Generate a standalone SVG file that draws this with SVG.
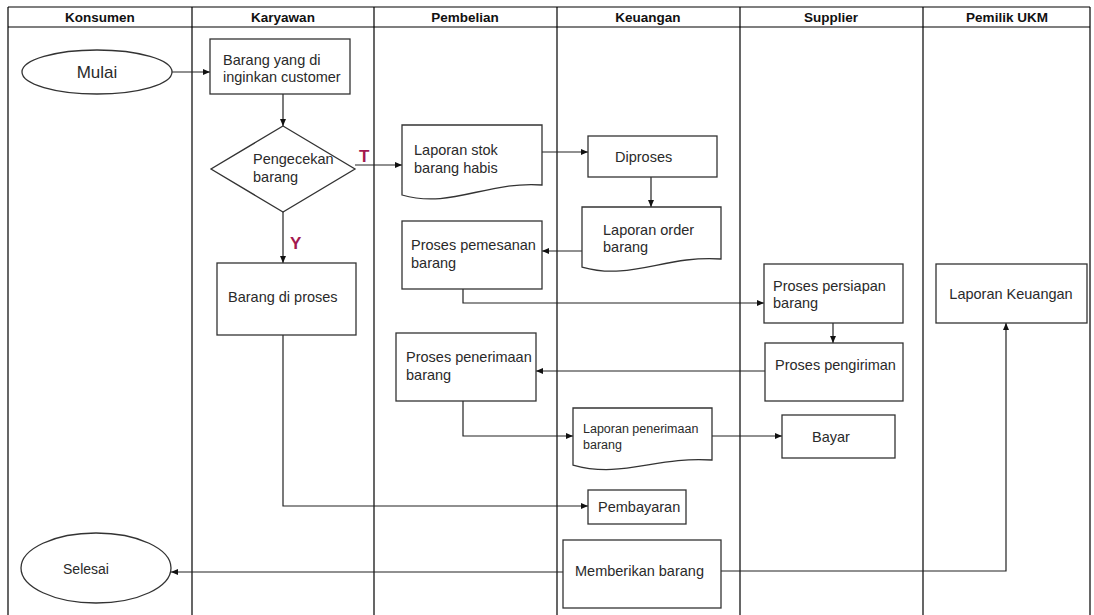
<svg xmlns="http://www.w3.org/2000/svg" width="1094" height="615" viewBox="0 0 1094 615">
<style>
.lane{stroke:#000;stroke-width:1.2;fill:none}
.hd{font-family:"Liberation Sans",Arial,sans-serif;font-weight:bold;font-size:13.5px;fill:#111;text-anchor:middle}
.box{fill:#fff;stroke:#333;stroke-width:1.3}
.t{font-family:"Liberation Sans",Arial,sans-serif;font-size:14.5px;fill:#2a2a2a}
.ts{font-family:"Liberation Sans",Arial,sans-serif;font-size:12.5px;fill:#2a2a2a}
.c{fill:none;stroke:#222;stroke-width:1.2}
.lbl{font-family:"Liberation Sans",Arial,sans-serif;font-weight:bold;font-size:17px;fill:#a3184f}
</style>
<defs>
<marker id="ah" markerWidth="8" markerHeight="8" refX="7" refY="4" orient="auto" markerUnits="userSpaceOnUse">
<path d="M0,1 L7,4 L0,7 Z" fill="#111"/>
</marker>
</defs>
<rect width="1094" height="615" fill="#fff"/>
<g id="lanes">
<line class="lane" x1="8" y1="7" x2="1090" y2="7"/>
<line class="lane" x1="8" y1="27" x2="1090" y2="27"/>
<line class="lane" x1="8" y1="7" x2="8" y2="615"/>
<line class="lane" x1="192" y1="7" x2="192" y2="615"/>
<line class="lane" x1="374" y1="7" x2="374" y2="615"/>
<line class="lane" x1="557" y1="7" x2="557" y2="615"/>
<line class="lane" x1="740" y1="7" x2="740" y2="615"/>
<line class="lane" x1="923" y1="7" x2="923" y2="615"/>
<line class="lane" x1="1090" y1="7" x2="1090" y2="615"/>
<text class="hd" x="100" y="22">Konsumen</text>
<text class="hd" x="283" y="22">Karyawan</text>
<text class="hd" x="465" y="22">Pembelian</text>
<text class="hd" x="648" y="22">Keuangan</text>
<text class="hd" x="831" y="22">Supplier</text>
<text class="hd" x="1007" y="22">Pemilik UKM</text>
</g>
<g id="connectors">
<line class="c" x1="172" y1="72" x2="210" y2="72" marker-end="url(#ah)"/>
<line class="c" x1="283" y1="94" x2="283" y2="126" marker-end="url(#ah)"/>
<line class="c" x1="355" y1="165" x2="402" y2="165" marker-end="url(#ah)"/>
<line class="c" x1="283" y1="212" x2="283" y2="263" marker-end="url(#ah)"/>
<line class="c" x1="542" y1="152" x2="588" y2="152" marker-end="url(#ah)"/>
<line class="c" x1="651" y1="177" x2="651" y2="207" marker-end="url(#ah)"/>
<line class="c" x1="582" y1="251" x2="542" y2="251" marker-end="url(#ah)"/>
<polyline class="c" points="463,289 463,303 764,303" marker-end="url(#ah)"/>
<line class="c" x1="833" y1="323" x2="833" y2="343" marker-end="url(#ah)"/>
<line class="c" x1="765" y1="371" x2="536" y2="371" marker-end="url(#ah)"/>
<polyline class="c" points="463,401 463,436 573,436" marker-end="url(#ah)"/>
<line class="c" x1="712" y1="436" x2="782" y2="436" marker-end="url(#ah)"/>
<polyline class="c" points="283,335 283,506 588,506" marker-end="url(#ah)"/>
<line class="c" x1="563" y1="572" x2="171" y2="572" marker-end="url(#ah)"/>
<polyline class="c" points="721,571 1006,571 1006,323" marker-end="url(#ah)"/>
<text class="lbl" x="359" y="162">T</text>
<text class="lbl" x="290" y="249">Y</text>
</g>
<g id="mulai">
<ellipse class="box" cx="97" cy="72" rx="75" ry="22"/>
<text class="t" x="97" y="78" text-anchor="middle" style="font-size:17px">Mulai</text>
</g>
<g id="barang-diinginkan">
<rect class="box" x="210" y="39" width="140" height="55"/>
<text class="t" x="223" y="65">Barang yang di</text>
<text class="t" x="223" y="82">inginkan customer</text>
</g>
<g id="pengecekan">
<polygon class="box" points="283,126 355,169 283,212 211,169"/>
<text class="t" x="253" y="164">Pengecekan</text>
<text class="t" x="253" y="182">barang</text>
</g>
<g id="barang-diproses">
<rect class="box" x="217" y="263" width="139" height="72"/>
<text class="t" x="228" y="302">Barang di proses</text>
</g>
<g id="laporan-stok">
<path class="box" d="M402,125 H542 V185 C486,181 451,209 402,195 Z"/>
<text class="t" x="414" y="155">Laporan stok</text>
<text class="t" x="414" y="173">barang habis</text>
</g>
<g id="diproses">
<rect class="box" x="588" y="136" width="129" height="41"/>
<text class="t" x="615" y="162">Diproses</text>
</g>
<g id="laporan-order">
<path class="box" d="M582,207 H721 V259 C665,255 631,281 582,267 Z"/>
<text class="t" x="603" y="235">Laporan order</text>
<text class="t" x="603" y="252">barang</text>
</g>
<g id="pemesanan">
<rect class="box" x="402" y="221" width="140" height="68"/>
<text class="t" x="411" y="250">Proses pemesanan</text>
<text class="t" x="411" y="268">barang</text>
</g>
<g id="persiapan">
<rect class="box" x="764" y="264" width="139" height="59"/>
<text class="t" x="773" y="291">Proses persiapan</text>
<text class="t" x="773" y="308">barang</text>
</g>
<g id="pengiriman">
<rect class="box" x="765" y="343" width="138" height="58"/>
<text class="t" x="775" y="370">Proses pengiriman</text>
</g>
<g id="penerimaan">
<rect class="box" x="396" y="333" width="140" height="68"/>
<text class="t" x="406" y="362">Proses penerimaan</text>
<text class="t" x="406" y="380">barang</text>
</g>
<g id="laporan-penerimaan">
<path class="box" d="M573,408 H712 V460 C656,456 622,479 573,465 Z"/>
<text class="ts" x="583" y="433">Laporan penerimaan</text>
<text class="ts" x="583" y="449">barang</text>
</g>
<g id="bayar">
<rect class="box" x="782" y="415" width="113" height="43"/>
<text class="t" x="812" y="442">Bayar</text>
</g>
<g id="laporan-keuangan">
<rect class="box" x="936" y="264" width="151" height="59"/>
<text class="t" x="1011" y="299" text-anchor="middle">Laporan Keuangan</text>
</g>
<g id="pembayaran">
<rect class="box" x="588" y="490" width="98" height="34"/>
<text class="t" x="598" y="512">Pembayaran</text>
</g>
<g id="memberikan">
<rect class="box" x="563" y="540" width="158" height="68"/>
<text class="t" x="575" y="576">Memberikan barang</text>
</g>
<g id="selesai">
<ellipse class="box" cx="96" cy="568" rx="75" ry="35"/>
<text class="t" x="86" y="574" text-anchor="middle" style="font-size:14px">Selesai</text>
</g>
</svg>
